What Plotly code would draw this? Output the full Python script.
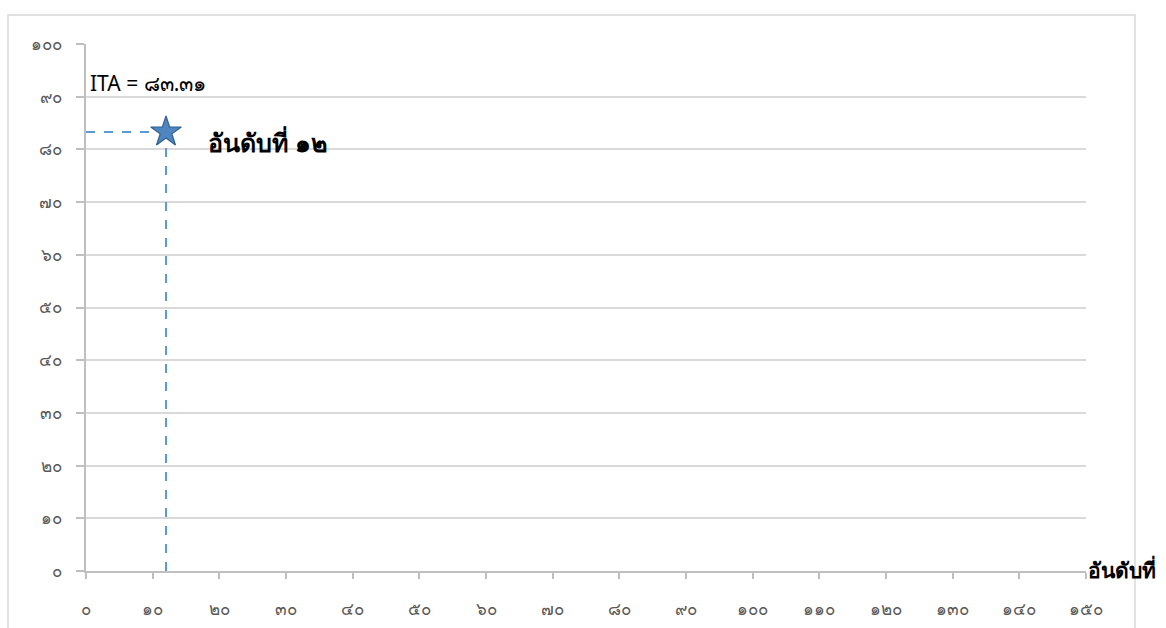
import plotly.graph_objects as go

th = str.maketrans("0123456789", "๐๑๒๓๔๕๖๗๘๙")

x_ticks = list(range(0, 151, 10))
y_ticks = list(range(0, 101, 10))
x_ticktext = [str(v).translate(th) for v in x_ticks]
y_ticktext = [str(v).translate(th) for v in y_ticks]

rank = 12
ita = 83.31
ita_label = "ITA = ๘๓.๓๑"
rank_label = "อันดับที่ ๑๒"
axis_label = "อันดับที่"

FONT = "Noto Sans, DejaVu Sans, sans-serif"
line_col = "#5b9bd5"

fig = go.Figure()
fig.add_trace(go.Scatter(x=[0, rank], y=[ita, ita], mode="lines",
                         line=dict(color=line_col, width=2, dash="dash"),
                         hoverinfo="skip", showlegend=False))
fig.add_trace(go.Scatter(x=[rank, rank], y=[0, ita], mode="lines",
                         line=dict(color=line_col, width=2, dash="dash"),
                         hoverinfo="skip", showlegend=False))
fig.add_trace(go.Scatter(x=[rank], y=[ita], mode="markers",
                         marker=dict(symbol="star", size=23, color="#4f86c0",
                                     line=dict(color="#2e5f8f", width=1.2)),
                         showlegend=False))

fig.add_annotation(x=0.3, y=92.6, text=ita_label, showarrow=False,
                   xanchor="left", yanchor="middle",
                   font=dict(size=21, color="#000000", family=FONT))
fig.add_annotation(x=18.0, y=81.4, text="<b>" + rank_label + "</b>", showarrow=False,
                   xanchor="left", yanchor="middle",
                   font=dict(size=25, color="#000000", family=FONT))
fig.add_annotation(x=1.0, xref="paper", y=0.003, yref="paper", text="<b>" + axis_label + "</b>",
                   showarrow=False, xanchor="left", yanchor="middle",
                   font=dict(size=21, color="#000000", family=FONT))

# outer chart border
fig.add_shape(type="rect", xref="paper", yref="paper",
              x0=-0.078, x1=1.049, y0=-0.14, y1=1.055,
              line=dict(color="#d9d9d9", width=1.5), layer="below")

fig.update_xaxes(range=[0, 150], tickvals=x_ticks, ticktext=x_ticktext,
                 showgrid=False, showline=True, linecolor="#bfbfbf", linewidth=2,
                 ticks="outside", ticklen=6, tickcolor="#bfbfbf", tickwidth=1.5,
                 ticklabelstandoff=16, automargin=False,
                 tickfont=dict(size=17, color="#595959", family=FONT),
                 zeroline=False, fixedrange=True)
fig.update_yaxes(range=[0, 100], tickvals=y_ticks, ticktext=y_ticktext,
                 showgrid=True, gridcolor="#d9d9d9", gridwidth=1.5,
                 showline=True, linecolor="#bfbfbf", linewidth=2,
                 ticks="outside", ticklen=8, tickcolor="#bfbfbf", tickwidth=1.5,
                 ticklabelstandoff=11, automargin=False,
                 tickfont=dict(size=17, color="#595959", family=FONT),
                 zeroline=False, fixedrange=True)

fig.update_layout(width=1166, height=628,
                  margin=dict(l=86, r=80, t=44, b=57, autoexpand=False),
                  plot_bgcolor="white", paper_bgcolor="white",
                  showlegend=False)

fig.write_html("out.html")
